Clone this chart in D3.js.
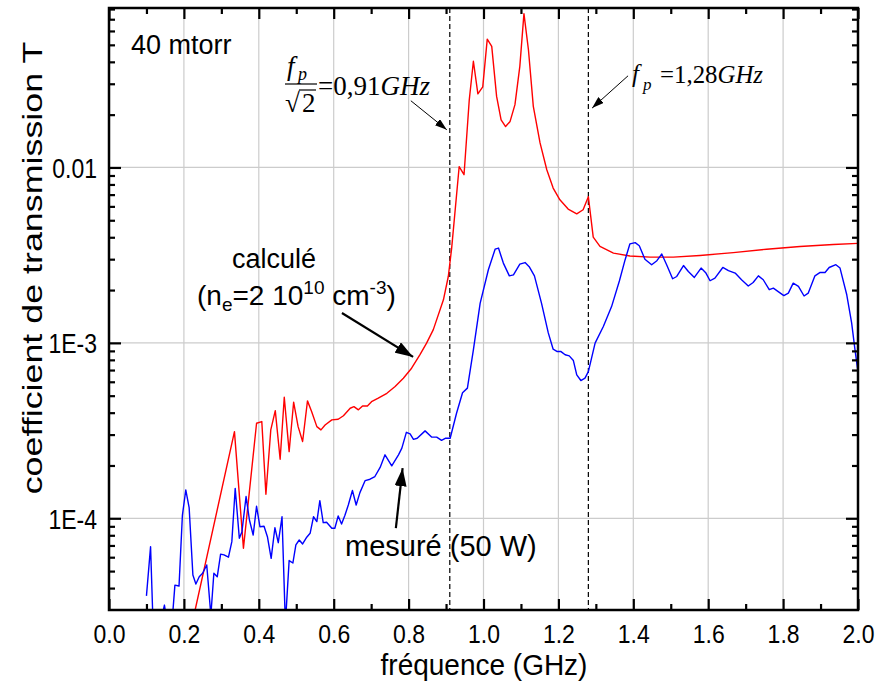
<!DOCTYPE html>
<html><head><meta charset="utf-8">
<script src="https://cdn.jsdelivr.net/npm/d3@7"></script>
<style>
body{margin:0;background:#fff}
svg{display:block}
text{font-family:"Liberation Sans",Arial,sans-serif;fill:#000}
.serif{font-family:"Liberation Serif","Times New Roman",serif}
</style>
</head><body>
<svg id="chart" width="876" height="683"></svg>
<script>
// ---------- data ----------
const freqCalc = [0.200,0.230,0.335,0.359,0.394,0.408,0.419,0.432,0.444,0.457,0.468,0.481,0.493,0.505,0.517,0.530,0.541,0.555,0.566,0.577,0.595,0.612,0.626,0.644,0.654,0.666,0.677,0.690,0.701,0.719,0.742,0.764,0.786,0.808,0.830,0.848,0.866,0.893,0.906,0.915,0.935,0.948,0.962,0.973,0.985,0.998,1.010,1.022,1.035,1.047,1.059,1.071,1.084,1.097,1.108,1.120,1.133,1.151,1.169,1.186,1.204,1.226,1.249,1.266,1.280,1.293,1.311,1.347,1.391,1.445,1.507,1.578,1.667,1.756,1.845,1.934,2.000];
const tCalc = [1.55e-5,3.0e-5,3.12e-4,6.75e-5,3.48e-4,3.56e-4,1.37e-4,3.19e-4,4.11e-4,2.17e-4,4.90e-4,2.40e-4,4.59e-4,3.33e-4,2.74e-4,4.67e-4,4.06e-4,3.33e-4,3.19e-4,3.40e-4,3.64e-4,3.67e-4,3.84e-4,4.24e-4,4.33e-4,4.15e-4,4.37e-4,4.37e-4,4.62e-4,4.84e-4,5.16e-4,5.64e-4,6.29e-4,7.17e-4,8.55e-4,9.96e-4,1.19e-3,1.76e-3,2.39e-3,3.47e-3,1.01e-2,9.09e-3,2.43e-2,4.03e-2,2.63e-2,2.88e-2,5.39e-2,4.90e-2,2.54e-2,1.87e-2,1.71e-2,1.83e-2,2.28e-2,3.77e-2,7.53e-2,4.69e-2,2.23e-2,1.38e-2,9.70e-3,7.63e-3,6.54e-3,5.79e-3,5.44e-3,5.74e-3,6.81e-3,4.01e-3,3.55e-3,3.25e-3,3.13e-3,3.08e-3,3.08e-3,3.15e-3,3.27e-3,3.42e-3,3.54e-3,3.64e-3,3.69e-3];

const freqMeas = [0.100,0.111,0.119,0.131,0.148,0.160,0.168,0.176,0.187,0.196,0.205,0.214,0.224,0.232,0.241,0.250,0.261,0.272,0.280,0.289,0.298,0.307,0.319,0.328,0.337,0.348,0.355,0.366,0.375,0.385,0.394,0.403,0.414,0.423,0.433,0.443,0.452,0.462,0.471,0.481,0.491,0.499,0.508,0.517,0.528,0.537,0.546,0.555,0.563,0.572,0.581,0.595,0.603,0.612,0.621,0.630,0.639,0.650,0.660,0.670,0.684,0.697,0.710,0.724,0.737,0.755,0.773,0.782,0.794,0.804,0.813,0.823,0.844,0.862,0.875,0.888,0.899,0.911,0.928,0.944,0.957,0.973,0.991,1.013,1.031,1.040,1.053,1.069,1.080,1.097,1.111,1.122,1.136,1.155,1.173,1.186,1.197,1.207,1.218,1.229,1.240,1.249,1.260,1.271,1.280,1.298,1.320,1.342,1.363,1.378,1.391,1.405,1.416,1.431,1.449,1.463,1.476,1.489,1.505,1.516,1.534,1.547,1.563,1.581,1.594,1.605,1.618,1.639,1.654,1.672,1.689,1.707,1.720,1.734,1.747,1.763,1.774,1.787,1.802,1.814,1.827,1.841,1.856,1.867,1.885,1.899,1.912,1.923,1.941,1.952,1.970,1.983,1.992,2.000];
const tMeas = [3.61e-5,6.89e-5,2.02e-5,2.2e-5,3.2e-5,2.2e-5,2.5e-5,4.16e-5,4.11e-5,1.04e-4,1.45e-4,1.15e-4,4.75e-5,4.22e-5,4.64e-5,4.86e-5,5.42e-5,2.8e-5,4.86e-5,4.64e-5,6.25e-5,6.18e-5,6.0e-5,7.36e-5,1.48e-4,7.69e-5,8.39e-5,1.33e-4,9.78e-5,8.03e-5,1.17e-4,8.95e-5,9.0e-5,7.85e-5,5.91e-5,8.83e-5,7.26e-5,1.02e-4,2.5e-5,5.74e-5,5.56e-5,7.05e-5,7.52e-5,7.14e-5,7.80e-5,8.21e-5,1.02e-4,9.57e-5,1.26e-4,9.44e-5,9.5e-5,8.77e-5,8.77e-5,1.03e-4,9.27e-5,1.04e-4,1.19e-4,1.44e-4,1.19e-4,1.40e-4,1.64e-4,1.67e-4,1.73e-4,1.95e-4,2.30e-4,1.99e-4,2.30e-4,2.51e-4,3.09e-4,3.03e-4,2.82e-4,2.86e-4,3.15e-4,2.90e-4,2.90e-4,2.78e-4,2.86e-4,2.86e-4,3.97e-4,5.20e-4,5.52e-4,9.12e-4,1.68e-3,2.61e-3,3.42e-3,3.47e-3,2.85e-3,2.41e-3,2.44e-3,2.81e-3,2.87e-3,2.72e-3,2.41e-3,1.68e-3,1.14e-3,9.20e-4,8.92e-4,8.92e-4,8.55e-4,8.43e-4,7.93e-4,6.57e-4,6.10e-4,6.29e-4,6.86e-4,9.96e-4,1.24e-3,1.61e-3,2.26e-3,2.97e-3,3.67e-3,3.73e-3,3.58e-3,3.00e-3,2.79e-3,2.94e-3,3.21e-3,2.79e-3,2.32e-3,2.39e-3,2.76e-3,2.55e-3,2.36e-3,2.67e-3,2.50e-3,2.26e-3,2.34e-3,2.69e-3,2.58e-3,2.50e-3,2.29e-3,2.11e-3,2.21e-3,2.41e-3,2.29e-3,2.01e-3,2.05e-3,1.96e-3,1.86e-3,1.92e-3,2.19e-3,2.10e-3,1.85e-3,1.92e-3,2.41e-3,2.52e-3,2.52e-3,2.69e-3,2.79e-3,2.67e-3,1.88e-3,1.30e-3,9.12e-4,6.83e-4];

const xTicks = [0.0,0.2,0.4,0.6,0.8,1.0,1.2,1.4,1.6,1.8,2.0];
const xMinorTicks = [0.1,0.3,0.5,0.7,0.9,1.1,1.3,1.5,1.7,1.9];
const yTicks = [1e-4,1e-3,1e-2];
const yTickLabels = ["1E-4","1E-3","0.01"];
const yMinorTicks = [4e-5,5e-5,6e-5,7e-5,8e-5,9e-5,2e-4,3e-4,4e-4,5e-4,6e-4,7e-4,8e-4,9e-4,2e-3,3e-3,4e-3,5e-3,6e-3,7e-3,8e-3,9e-3,2e-2,3e-2,4e-2,5e-2,6e-2,7e-2,8e-2];
const plasmaFreqs = [0.91, 1.28];
const xDomain = [0, 2];
const yDomain = [3.0e-5, 0.0811];

// ---------- layout ----------
const W = 876, H = 683;
const M = {left:109, right:18, top:8, bottom:73};
const svg = d3.select("#chart");
const x = d3.scaleLinear().domain(xDomain).range([M.left, W - M.right]);
const y = d3.scaleLog().domain(yDomain).range([H - M.bottom, M.top]);
const x0 = M.left, x1 = W - M.right, y0 = H - M.bottom, y1 = M.top;

svg.append("defs").append("clipPath").attr("id","plot")
  .append("rect").attr("x",x0).attr("y",y1).attr("width",x1-x0).attr("height",y0-y1);

// grid
const grid = svg.append("g").attr("stroke","#cccccc").attr("stroke-width",1.2);
grid.selectAll("line.v").data(xTicks.slice(1,-1)).join("line")
  .attr("x1",d=>x(d)).attr("x2",d=>x(d)).attr("y1",y1).attr("y2",y0);
grid.selectAll("line.h").data(yTicks).join("line")
  .attr("y1",d=>y(d)).attr("y2",d=>y(d)).attr("x1",x0).attr("x2",x1);

// dashed plasma-frequency lines
svg.append("g").selectAll("line").data(plasmaFreqs).join("line")
  .attr("x1",d=>x(d)).attr("x2",d=>x(d)).attr("y1",y1).attr("y2",y0)
  .attr("stroke","#000").attr("stroke-width",1.2).attr("stroke-dasharray","5,3");

// curves
const line = d3.line().x(d=>x(d[0])).y(d=>y(d[1]));
const curves = svg.append("g").attr("clip-path","url(#plot)").attr("fill","none")
  .attr("stroke-width",1.4).attr("stroke-linejoin","round");
curves.append("path").attr("d", line(freqCalc.map((f,i)=>[f,tCalc[i]]))).attr("stroke","#ff0000");
curves.append("path").attr("d", line(freqMeas.map((f,i)=>[f,tMeas[i]]))).attr("stroke","#0000ff");

// axes (ticks inside on all 4 sides)
function styleAxis(g){ g.select(".domain").remove(); g.selectAll(".tick line").attr("stroke","#000").attr("stroke-width",2.2); }
const fmt = d3.format(".1f");
svg.append("g").attr("transform",`translate(0,${y0})`)
  .call(d3.axisBottom(x).tickValues(xTicks).tickFormat(fmt).tickSizeInner(-11).tickSizeOuter(0))
  .call(styleAxis)
  .call(g=>g.selectAll("text").attr("font-size",23).attr("font-family","Liberation Sans, Arial")
    .attr("y",0).attr("dy",0).attr("transform","translate(0,33) scale(1,1.15)"));
svg.append("g").attr("transform",`translate(0,${y0})`)
  .call(d3.axisBottom(x).tickValues(xMinorTicks).tickFormat("").tickSizeInner(-6).tickSizeOuter(0)).call(styleAxis);
svg.append("g").attr("transform",`translate(0,${y1})`)
  .call(d3.axisTop(x).tickValues(xTicks).tickFormat("").tickSizeInner(-11).tickSizeOuter(0)).call(styleAxis);
svg.append("g").attr("transform",`translate(0,${y1})`)
  .call(d3.axisTop(x).tickValues(xMinorTicks).tickFormat("").tickSizeInner(-6).tickSizeOuter(0)).call(styleAxis);
svg.append("g").attr("transform",`translate(${x0},0)`)
  .call(d3.axisLeft(y).tickValues(yTicks).tickFormat((d,i)=>yTickLabels[i]).tickSizeInner(-12).tickSizeOuter(0))
  .call(styleAxis)
  .call(g=>g.selectAll("text").attr("font-size",23).attr("font-family","Liberation Sans, Arial")
    .attr("x",0).attr("dy",0).attr("transform","translate(-12,10) scale(1,1.2)"));
svg.append("g").attr("transform",`translate(${x0},0)`)
  .call(d3.axisLeft(y).tickValues(yMinorTicks).tickFormat("").tickSizeInner(-6).tickSizeOuter(0)).call(styleAxis);
svg.append("g").attr("transform",`translate(${x1},0)`)
  .call(d3.axisRight(y).tickValues(yTicks).tickFormat("").tickSizeInner(-12).tickSizeOuter(0)).call(styleAxis);
svg.append("g").attr("transform",`translate(${x1},0)`)
  .call(d3.axisRight(y).tickValues(yMinorTicks).tickFormat("").tickSizeInner(-6).tickSizeOuter(0)).call(styleAxis);

// frame
svg.append("rect").attr("x",x0).attr("y",y1).attr("width",x1-x0).attr("height",y0-y1)
  .attr("fill","none").attr("stroke","#000").attr("stroke-width",2.5);

// axis titles
svg.append("text").attr("transform","translate(484,675) scale(1,1.05)").attr("text-anchor","middle")
  .attr("font-size",28).text("fréquence (GHz)");
svg.append("text").attr("transform","translate(42,268) rotate(-90) scale(1.28,1)").attr("text-anchor","middle")
  .attr("font-size",28).text("coefficient de transmission T");

// arrow markers
const defs = svg.select("defs");
defs.append("marker").attr("id","arrThin").attr("markerUnits","userSpaceOnUse")
  .attr("viewBox","0 0 12 8").attr("refX",12).attr("refY",4).attr("markerWidth",12).attr("markerHeight",8).attr("orient","auto")
  .append("path").attr("d","M0,0 L12,4 L0,8 Z").attr("fill","#000");
defs.append("marker").attr("id","arrThick").attr("markerUnits","userSpaceOnUse")
  .attr("viewBox","0 0 18 12").attr("refX",18).attr("refY",6).attr("markerWidth",18).attr("markerHeight",12).attr("orient","auto")
  .append("path").attr("d","M0,0 L18,6 L0,12 Z").attr("fill","#000");

// annotation arrows (anchored in data coordinates)
const arrows = [
  {from:[0.806,0.024], to:[0.902,0.0164], w:1, m:"arrThin"},
  {from:[1.386,0.0333], to:[1.290,0.0218], w:1, m:"arrThin"},
  {from:[0.622,1.48e-3], to:[0.812,8.32e-4], w:2.2, m:"arrThick"},
  {from:[0.766,8.8e-5], to:[0.784,1.93e-4], w:2.2, m:"arrThick"}
];
svg.append("g").selectAll("line").data(arrows).join("line")
  .attr("x1",d=>x(d.from[0])).attr("y1",d=>y(d.from[1]))
  .attr("x2",d=>x(d.to[0])).attr("y2",d=>y(d.to[1]))
  .attr("stroke","#000").attr("stroke-width",d=>d.w).attr("marker-end",d=>`url(#${d.m})`);

// labels
svg.append("text").attr("x",131).attr("y",54).attr("font-size",27).text("40 mtorr");
svg.append("text").attr("x",232).attr("y",268).attr("font-size",27).text("calculé");
const ne = svg.append("text").attr("x",197).attr("y",305).attr("font-size",28);
ne.append("tspan").text("(n");
ne.append("tspan").attr("font-size",19).attr("dy",6).text("e");
ne.append("tspan").attr("dy",-6).text("=2 10");
ne.append("tspan").attr("font-size",19).attr("dy",-11).text("10");
ne.append("tspan").attr("dy",11).text(" cm");
ne.append("tspan").attr("font-size",19).attr("dy",-11).text("-3");
ne.append("tspan").attr("dy",11).text(")");
svg.append("text").attr("x",345).attr("y",556).attr("font-size",29).text("mesuré (50 W)");

// formula 1 : f_p / sqrt(2) = 0,91 GHz
const f1 = svg.append("g");
f1.append("text").attr("class","serif").attr("x",287).attr("y",75).attr("font-size",27).attr("font-style","italic").text("f");
f1.append("text").attr("class","serif").attr("x",298).attr("y",80).attr("font-size",18).attr("font-style","italic").text("p");
f1.append("line").attr("x1",285).attr("x2",317).attr("y1",84).attr("y2",84).attr("stroke","#000").attr("stroke-width",1.2);
f1.append("text").attr("class","serif").attr("x",285).attr("y",112).attr("font-size",27).text("√");
f1.append("line").attr("x1",299).attr("x2",316).attr("y1",90).attr("y2",90).attr("stroke","#000").attr("stroke-width",1.2);
f1.append("text").attr("class","serif").attr("x",302).attr("y",112).attr("font-size",27).text("2");
const t1 = f1.append("text").attr("class","serif").attr("x",318).attr("y",95).attr("font-size",27)
  .attr("textLength",112).attr("lengthAdjust","spacingAndGlyphs");
t1.append("tspan").text("=0,91");
t1.append("tspan").attr("font-style","italic").text("GHz");

// formula 2 : f_p = 1,28 GHz
const f2 = svg.append("g");
f2.append("text").attr("class","serif").attr("x",632).attr("y",82).attr("font-size",25).attr("font-style","italic").text("f");
f2.append("text").attr("class","serif").attr("x",643).attr("y",90).attr("font-size",17).attr("font-style","italic").text("p");
const t2 = f2.append("text").attr("class","serif").attr("x",660).attr("y",83).attr("font-size",25)
  .attr("textLength",103).attr("lengthAdjust","spacingAndGlyphs");
t2.append("tspan").text("=1,28");
t2.append("tspan").attr("font-style","italic").text("GHz");
</script>
</body></html>
